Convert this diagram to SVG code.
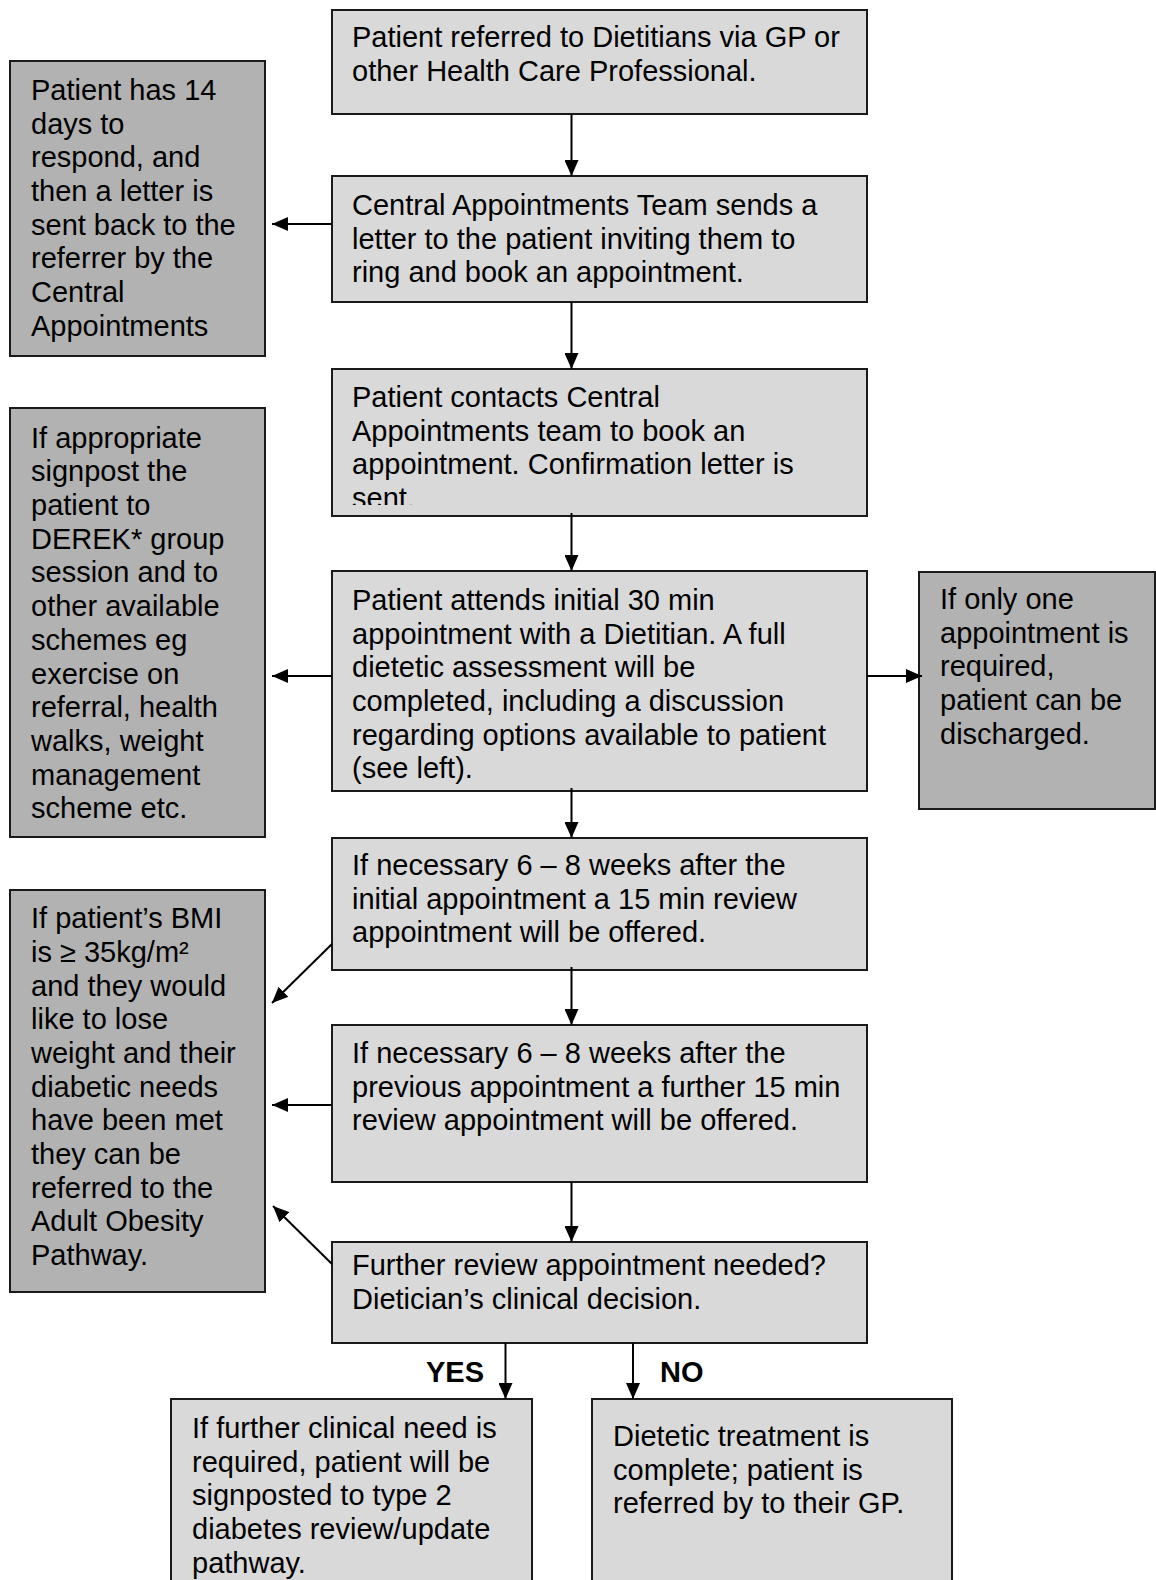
<svg xmlns="http://www.w3.org/2000/svg" width="1156" height="1580" viewBox="0 0 1156 1580">
<style>
.main{fill:#d9d9d9;stroke:#1a1a1a;stroke-width:2}
.side{fill:#b2b2b2;stroke:#1a1a1a;stroke-width:2}
text{font-family:"Liberation Sans",Arial,sans-serif;font-size:29px;fill:#000}
.lbl{font-weight:bold}
.conn{stroke:#000;stroke-width:2;fill:none;marker-end:url(#ah)}
</style>
<defs>
<marker id="ah" markerUnits="userSpaceOnUse" markerWidth="16" markerHeight="14" refX="16" refY="7" orient="auto">
<path d="M0,0 L16,7 L0,14 z" fill="#000"/>
</marker>
<clipPath id="c3"><rect x="332" y="369" width="535" height="136"/></clipPath>
</defs>
<rect width="1156" height="1580" fill="#fff"/>

<g id="n1">
<rect class="main" x="332" y="10" width="535" height="104"/>
<text x="352" y="47">Patient referred to Dietitians via GP or</text>
<text x="352" y="81">other Health Care Professional.</text>
</g>

<g id="n2">
<rect class="main" x="332" y="176" width="535" height="126"/>
<text x="352" y="215">Central Appointments Team sends a</text>
<text x="352" y="249">letter to the patient inviting them to</text>
<text x="352" y="282">ring and book an appointment.</text>
</g>

<g id="n3">
<rect class="main" x="332" y="369" width="535" height="147"/>
<g clip-path="url(#c3)">
<text x="352" y="407">Patient contacts Central</text>
<text x="352" y="441">Appointments team to book an</text>
<text x="352" y="474">appointment. Confirmation letter is</text>
<text x="352" y="508">sent.</text>
</g>
</g>

<g id="n4">
<rect class="main" x="332" y="571" width="535" height="220"/>
<text x="352" y="610">Patient attends initial 30 min</text>
<text x="352" y="644">appointment with a Dietitian. A full</text>
<text x="352" y="677">dietetic assessment will be</text>
<text x="352" y="711">completed, including a discussion</text>
<text x="352" y="745">regarding options available to patient</text>
<text x="352" y="778">(see left).</text>
</g>

<g id="n5">
<rect class="main" x="332" y="838" width="535" height="132"/>
<text x="352" y="875">If necessary 6 – 8 weeks after the</text>
<text x="352" y="909">initial appointment a 15 min review</text>
<text x="352" y="942">appointment will be offered.</text>
</g>

<g id="n6">
<rect class="main" x="332" y="1025" width="535" height="157"/>
<text x="352" y="1063">If necessary 6 – 8 weeks after the</text>
<text x="352" y="1097">previous appointment a further 15 min</text>
<text x="352" y="1130">review appointment will be offered.</text>
</g>

<g id="n7">
<rect class="main" x="332" y="1242" width="535" height="101"/>
<text x="352" y="1275">Further review appointment needed?</text>
<text x="352" y="1309">Dietician’s clinical decision.</text>
</g>

<g id="n8">
<rect class="main" x="171" y="1399" width="361" height="200"/>
<text x="192" y="1438">If further clinical need is</text>
<text x="192" y="1472">required, patient will be</text>
<text x="192" y="1505">signposted to type 2</text>
<text x="192" y="1539">diabetes review/update</text>
<text x="192" y="1573">pathway.</text>
</g>

<g id="n9">
<rect class="main" x="592" y="1399" width="360" height="200"/>
<text x="613" y="1446">Dietetic treatment is</text>
<text x="613" y="1480">complete; patient is</text>
<text x="613" y="1513">referred by to their GP.</text>
</g>

<g id="s1">
<rect class="side" x="10" y="61" width="255" height="295"/>
<text x="31" y="100">Patient has 14</text>
<text x="31" y="134">days to</text>
<text x="31" y="167">respond, and</text>
<text x="31" y="201">then a letter is</text>
<text x="31" y="235">sent back to the</text>
<text x="31" y="268">referrer by the</text>
<text x="31" y="302">Central</text>
<text x="31" y="336">Appointments</text>
</g>

<g id="s2">
<rect class="side" x="10" y="408" width="255" height="429"/>
<text x="31" y="448">If appropriate</text>
<text x="31" y="481">signpost the</text>
<text x="31" y="515">patient to</text>
<text x="31" y="549">DEREK* group</text>
<text x="31" y="582">session and to</text>
<text x="31" y="616">other available</text>
<text x="31" y="650">schemes eg</text>
<text x="31" y="684">exercise on</text>
<text x="31" y="717">referral, health</text>
<text x="31" y="751">walks, weight</text>
<text x="31" y="785">management</text>
<text x="31" y="818">scheme etc.</text>
</g>

<g id="s3">
<rect class="side" x="10" y="890" width="255" height="402"/>
<text x="31" y="928">If patient’s BMI</text>
<text x="31" y="962">is ≥ 35kg/m²</text>
<text x="31" y="996">and they would</text>
<text x="31" y="1029">like to lose</text>
<text x="31" y="1063">weight and their</text>
<text x="31" y="1097">diabetic needs</text>
<text x="31" y="1130">have been met</text>
<text x="31" y="1164">they can be</text>
<text x="31" y="1198">referred to the</text>
<text x="31" y="1231">Adult Obesity</text>
<text x="31" y="1265">Pathway.</text>
</g>

<g id="s4">
<rect class="side" x="919" y="572" width="236" height="237"/>
<text x="940" y="609">If only one</text>
<text x="940" y="643">appointment is</text>
<text x="940" y="676">required,</text>
<text x="940" y="710">patient can be</text>
<text x="940" y="744">discharged.</text>
</g>

<g id="connectors">
<line class="conn" x1="571.5" y1="114" x2="571.5" y2="176"/>
<line class="conn" x1="571.5" y1="302" x2="571.5" y2="369"/>
<line class="conn" x1="571.5" y1="513" x2="571.5" y2="571"/>
<line class="conn" x1="571.5" y1="788" x2="571.5" y2="838"/>
<line class="conn" x1="571.5" y1="967" x2="571.5" y2="1025"/>
<line class="conn" x1="571.5" y1="1182" x2="571.5" y2="1242"/>
<line class="conn" x1="505.5" y1="1343" x2="505.5" y2="1399"/>
<line class="conn" x1="633" y1="1343" x2="633" y2="1399"/>
<line class="conn" x1="332" y1="224" x2="272" y2="224"/>
<line class="conn" x1="332" y1="676" x2="272" y2="676"/>
<line class="conn" x1="867" y1="676" x2="922" y2="676"/>
<line class="conn" x1="332" y1="944" x2="272" y2="1003"/>
<line class="conn" x1="332" y1="1105" x2="272" y2="1105"/>
<line class="conn" x1="332" y1="1264" x2="273" y2="1206"/>
<text class="lbl" x="426" y="1382">YES</text>
<text class="lbl" x="660" y="1382">NO</text>
</g>
</svg>
